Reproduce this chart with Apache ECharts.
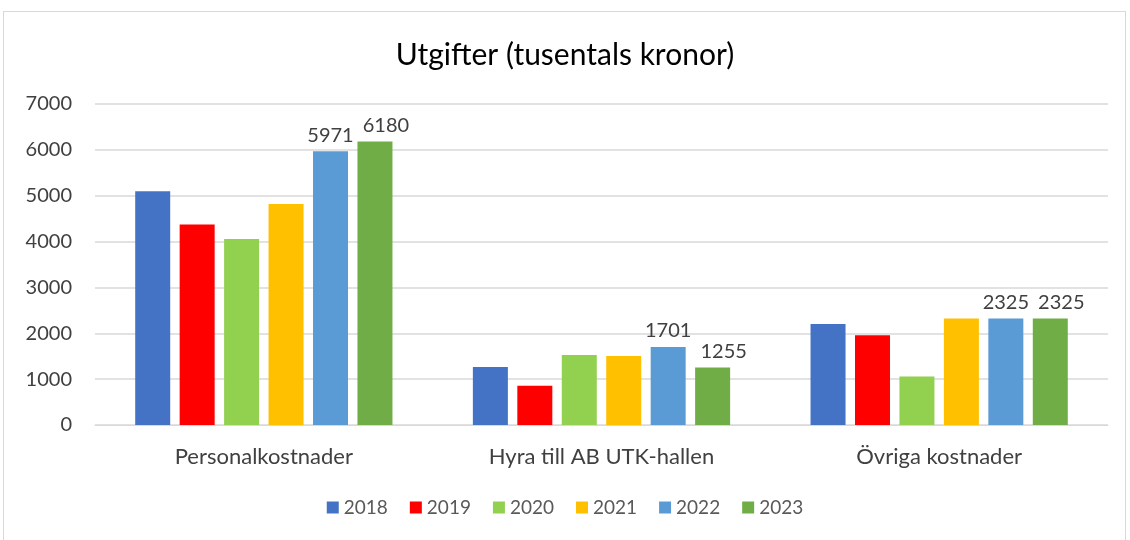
<!DOCTYPE html>
<html>
<head>
<meta charset="utf-8">
<script src="https://cdn.jsdelivr.net/npm/echarts@6/dist/echarts.min.js"></script>
<style>
  html, body { margin: 0; padding: 0; background: #fff; }
  #frame { position: absolute; left: 3px; top: 11px; width: 1123px; height: 540px; border: 1px solid #d9d9d9; box-sizing: border-box; }
  #chart { position: absolute; left: 0; top: 0; width: 1130px; height: 540px; }
</style>
</head>
<body>
<div id="frame"></div>
<div id="chart"></div>
<script>
// categories and yearly series
const categories = ['Personalkostnader', 'Hyra till AB UTK-hallen', 'Övriga kostnader'];
const years = ['2018', '2019', '2020', '2021', '2022', '2023'];
const v2018 = [5100, 1265, 2200];
const v2019 = [4370, 855, 1955];
const v2020 = [4055, 1525, 1060];
const v2021 = [4820, 1505, 2320];
const v2022 = [5971, 1701, 2325];
const v2023 = [6180, 1255, 2325];
const yearColors = ['#4472C4', '#FF0000', '#92D050', '#FFC000', '#5B9BD5', '#70AD47'];
const showLabels = [false, false, false, false, true, true];

const values = [v2018, v2019, v2020, v2021, v2022, v2023];
const fontFamily = 'Lato, "Open Sans", sans-serif';

const chart = echarts.init(document.getElementById('chart'));

const series = years.map((year, i) => ({
  name: year,
  type: 'bar',
  data: values[i],
  barWidth: 35,
  barGap: '27%',
  itemStyle: { color: yearColors[i] },
  label: {
    show: showLabels[i],
    position: 'top',
    distance: 6,
    // last series label nudged right so it does not collide, like the original
    offset: i === 5 ? [11, 0] : [0, 0],
    color: '#404040',
    fontSize: 20,
    fontFamily: fontFamily
  }
}));

const option = {
  animation: false,
  textStyle: { fontFamily: fontFamily },
  title: {
    text: 'Utgifter (tusentals kronor)',
    left: 'center',
    top: 35,
    textStyle: { fontSize: 30, fontWeight: 'normal', color: '#000', fontFamily: fontFamily }
  },
  legend: {
    bottom: 18,
    left: 'center',
    itemWidth: 12,
    itemHeight: 12,
    itemGap: 22,
    icon: 'rect',
    textStyle: { fontSize: 19, color: '#595959', fontFamily: fontFamily }
  },
  grid: { left: 95, right: 22, top: 104, bottom: 115 },
  xAxis: {
    type: 'category',
    data: categories,
    axisLine: { lineStyle: { color: '#d9d9d9' } },
    axisTick: { show: false },
    axisLabel: { color: '#404040', fontSize: 22, margin: 21, fontFamily: fontFamily }
  },
  yAxis: {
    type: 'value',
    min: 0,
    max: 7000,
    interval: 1000,
    axisLine: { show: false },
    axisTick: { show: false },
    splitLine: { lineStyle: { color: '#d9d9d9', width: 1.5 } },
    axisLabel: {
      color: '#404040',
      fontSize: 20,
      margin: 23,
      fontFamily: fontFamily,
      formatter: (value) => String(value)
    }
  },
  series: series
};

chart.setOption(option);
</script>
</body>
</html>
